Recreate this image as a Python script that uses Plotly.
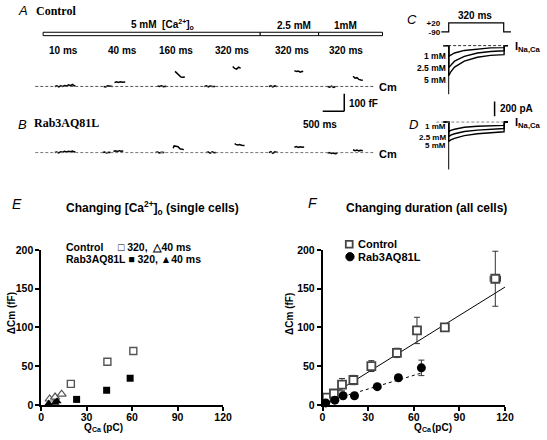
import plotly.graph_objects as go

W, H = 547, 440
def fx(p): return p / W
def fy(p): return 1 - p / H

# ---------------- data ----------------
# Panel E: changing [Ca2+]o, single cells  (Q_Ca pC, dCm fF)
e_ctrl320_q = [19.6, 43.7, 60.8]
e_ctrl320_dcm = [27.0, 55.5, 69.5]
e_ctrl40_q = [5.6, 9.2, 13.5]
e_ctrl40_dcm = [7.5, 10.0, 13.8]
e_rab320_q = [23.4, 43.2, 58.7]
e_rab320_dcm = [7.0, 18.8, 34.3]
e_rab40_q = [5.0, 9.2, 10.5]
e_rab40_dcm = [1.7, 2.8, 4.5]

# Panel F: changing duration, all cells
f_ctrl_q = [2.8, 7.5, 12.8, 20.3, 32.1, 48.9, 62.1, 80.4, 113.6]
f_ctrl_dcm = [9.2, 14.6, 26.0, 32.0, 50.0, 67.0, 96.0, 100.0, 162.7]
f_ctrl_err = [3, 3, 8, 6, 7, 6, 17, 5, 35.5]
f_ctrl_qerr = [0.5, 0.5, 0.8, 1.0, 1.0, 1.2, 1.5, 2.5, 3.4]
f_rab_q = [2.1, 8.1, 13.5, 21.0, 36.0, 49.9, 65.0]
f_rab_dcm = [2.5, 6.0, 11.7, 11.7, 23.4, 35.0, 47.7]
f_rab_err = [1.5, 2, 2.5, 2, 2.5, 3, 10]
f_ctrl_fit_q = [2, 120]
f_ctrl_fit_dcm = [8, 152]
f_rab_fit_q = [2, 65]
f_rab_fit_dcm = [4, 41]

# Panel A: Cm snippets, control (time ms, Cm fF); None separates snippets
a_t = [454, 500, 545, 590, 636, 681, 727, 772, 818, 863, 908, 931, None,
       1589, 1634, 1680, 1725, 1770, 1793, None,
       1839, 1884, 1930, 1975, 2020, 2066, 2088, None,
       2838, 2883, 2929, 2974, 3019, 3042, None,
       3246, 3292, 3337, 3383, 3428, 3473, None,
       3927, 3973, 4018, 4063, 4109, 4154, 4177, None,
       4585, 4630, 4676, 4721, 4767, None,
       5425, 5470, 5516, 5561, 5607, None,
       6016, 6062, 6107, 6152, 6198, 6220, None,
       6787, 6833, 6878, 6924, 6969, None,
       7378, 7424, 7469, 7514, 7560, 7605]
a_cm = [0, 3, -3, 4, 0, 5, 2, 9, 4, 11, 3, 6, None,
        0, -3, 4, 2, -2, 0, None,
        22, 27, 23, 27, 24, 27, 25, None,
        3, 0, 4, -1, 1, 0, None,
        86, 76, 62, 54, 52, 54, None,
        0, 4, -2, 3, 0, 2, -1, None,
        114, 103, 99, 110, 104, None,
        0, 4, -3, 3, 0, None,
        90, 85, 88, 82, 86, 84, None,
        0, -4, 2, -5, 0, None,
        58, 47, 50, 40, 37, 35]

# Panel B: Cm snippets, Rab3AQ81L
b_t = [454, 500, 545, 590, 636, 681, 727, 772, 818, 863, 908, 931, None,
       1566, 1611, 1657, 1702, 1748, None,
       1816, 1861, 1907, 1952, 1998, 2043, None,
       2792, 2838, 2883, 2929, 2996, None,
       3201, 3224, 3269, 3315, 3360, 3406, 3450, None,
       3973, 4018, 4063, 4109, 4154, 4200, None,
       4631, 4654, 4699, 4744, 4790, 4858, None,
       5425, 5470, 5516, 5561, 5630, None,
       6016, 6062, 6107, 6152, 6198, 6243, None,
       6787, 6833, 6878, 6924, 6969, 7014, None,
       7378, 7424, 7469, 7514, 7560, 7605]
b_cm = [0, 3, -2, 5, 2, 7, 4, 8, 5, 9, 4, 6, None,
        0, 3, -2, 2, 0, None,
        6, 10, 7, 11, 8, 9, None,
        0, 3, -2, 2, 0, None,
        25, 38, 36, 34, 22, 18, 17, None,
        0, 3, -3, 4, -1, 0, None,
        52, 47, 44, 46, 42, 41, None,
        0, 5, -4, 4, 0, None,
        31, 34, 29, 33, 30, 32, None,
        -3, 0, -5, -2, -6, -4, None,
        16, 11, 15, 10, 13, 11]

# Panel C: voltage step (ms, mV)
v_t = [-44, 0, 0, 320, 320, 362]
v_mv = [-90, -90, 20, 20, -90, -90]

# Panels C/D: Ca currents (ms, pA)
i_t = [-32, 0, 0, 12, 34, 91, 167, 243, 322, 324, 345]
c_1mM = [0, 0, -146, -128, -101, -66, -44, -31, -27, 0, 0]
c_2p5mM = [0, 0, -301, -265, -213, -146, -101, -80, -71, 0, 0]
c_5mM = [0, 0, -412, -360, -293, -213, -160, -133, -124, 0, 0]
c_transient_pa = [0, -665]
d_1mM = [0, 0, -133, -115, -98, -72, -58, -49, -45, 0, 0]
d_2p5mM = [0, 0, -200, -180, -160, -129, -111, -98, -89, 0, 0]
d_5mM = [0, 0, -266, -245, -222, -186, -160, -142, -133, 0, 0]
d_transient_pa = [0, -648]
transient_t = [0, 0]

conc_labels = ["1 mM", "2.5 mM", "5 mM"]
pulse_labels = ["10 ms", "40 ms", "160 ms", "320 ms", "320 ms", "320 ms"]
ticks_q = [0, 30, 60, 90, 120]
ticks_dcm = [0, 50, 100, 150, 200]

# ---------------- figure ----------------
SANS = "Liberation Sans, Arial, sans-serif"
SERIF = "Liberation Serif, Times New Roman, serif"
fig = go.Figure()

# E
fig.add_trace(go.Scatter(x=e_ctrl320_q, y=e_ctrl320_dcm, mode="markers", xaxis="x", yaxis="y",
                         marker=dict(symbol="square", size=7, color="white", line=dict(color="#555", width=1.4)),
                         cliponaxis=False))
fig.add_trace(go.Scatter(x=e_ctrl40_q, y=e_ctrl40_dcm, mode="markers", xaxis="x", yaxis="y",
                         marker=dict(symbol="triangle-up", size=8, color="white", line=dict(color="#555", width=1.2)),
                         cliponaxis=False))
fig.add_trace(go.Scatter(x=e_rab320_q, y=e_rab320_dcm, mode="markers", xaxis="x", yaxis="y",
                         marker=dict(symbol="square", size=7, color="black"), cliponaxis=False))
fig.add_trace(go.Scatter(x=e_rab40_q, y=e_rab40_dcm, mode="markers", xaxis="x", yaxis="y",
                         marker=dict(symbol="triangle-up", size=8, color="black"), cliponaxis=False))

# F
fig.add_trace(go.Scatter(x=f_ctrl_fit_q, y=f_ctrl_fit_dcm, mode="lines", xaxis="x2", yaxis="y2",
                         line=dict(color="black", width=1)))
fig.add_trace(go.Scatter(x=f_rab_fit_q, y=f_rab_fit_dcm, mode="lines", xaxis="x2", yaxis="y2",
                         line=dict(color="black", width=1, dash="3px,3px")))
fig.add_trace(go.Scatter(x=f_ctrl_q, y=f_ctrl_dcm, mode="markers", xaxis="x2", yaxis="y2",
                         error_y=dict(type="data", array=f_ctrl_err, color="#333", thickness=1, width=3),
                         error_x=dict(type="data", array=f_ctrl_qerr, color="#333", thickness=1, width=3),
                         marker=dict(symbol="square", size=8, color="white", line=dict(color="#444", width=1.8)),
                         cliponaxis=False))
fig.add_trace(go.Scatter(x=f_rab_q, y=f_rab_dcm, mode="markers", xaxis="x2", yaxis="y2",
                         error_y=dict(type="data", array=f_rab_err, color="#333", thickness=1, width=3),
                         marker=dict(symbol="circle", size=9, color="black"), cliponaxis=False))

# A / B Cm traces
fig.add_trace(go.Scatter(x=a_t, y=a_cm, mode="lines", xaxis="x3", yaxis="y3",
                         line=dict(color="black", width=1.5), connectgaps=False))
fig.add_trace(go.Scatter(x=b_t, y=b_cm, mode="lines", xaxis="x4", yaxis="y4",
                         line=dict(color="black", width=1.5), connectgaps=False))

# C voltage + currents
fig.add_trace(go.Scatter(x=v_t, y=v_mv, mode="lines", xaxis="x5", yaxis="y5",
                         line=dict(color="black", width=1.2)))
for arr in (c_1mM, c_2p5mM, c_5mM):
    fig.add_trace(go.Scatter(x=i_t, y=arr, mode="lines", xaxis="x6", yaxis="y6",
                             line=dict(color="black", width=1.4)))
fig.add_trace(go.Scatter(x=transient_t, y=c_transient_pa, mode="lines", xaxis="x6", yaxis="y6",
                         line=dict(color="black", width=1)))
for arr in (d_1mM, d_2p5mM, d_5mM):
    fig.add_trace(go.Scatter(x=i_t, y=arr, mode="lines", xaxis="x7", yaxis="y7",
                             line=dict(color="black", width=1.4)))
fig.add_trace(go.Scatter(x=transient_t, y=d_transient_pa, mode="lines", xaxis="x7", yaxis="y7",
                         line=dict(color="black", width=1)))

# ---------------- axes ----------------
tickfont = dict(family=SANS, size=10.5, color="black", weight="bold")
def data_x(dom):
    return dict(domain=dom, range=[0, 120], tickvals=ticks_q, showline=True, linecolor="black",
                linewidth=1.5, ticks="outside", ticklen=4, tickwidth=1.5, tickcolor="black",
                showgrid=False, zeroline=False, tickfont=tickfont, fixedrange=True,
                ticklabelstandoff=-2)
def data_y(anchor):
    return dict(domain=[fy(410), fy(250.7)], range=[0, 200], tickvals=ticks_dcm, showline=True,
                linecolor="black", linewidth=1.5, ticks="outside", ticklen=4, tickwidth=1.5,
                tickcolor="black", showgrid=False, zeroline=False, tickfont=tickfont,
                anchor=anchor, fixedrange=True)

hidden = dict(visible=False, showgrid=False, zeroline=False, fixedrange=True)
cm_xdom = [fx(33), fx(380)]
cd_xdom = [fx(448), fx(520)]
cd_xrange = [-43.8, 365.9]

layout_axes = dict(
    xaxis=dict(data_x([fx(39), fx(225)]), anchor="y"),
    yaxis=data_y("x"),
    xaxis2=dict(data_x([fx(326.7), fx(513.3)]), anchor="y2"),
    yaxis2=data_y("x2"),
    xaxis3=dict(hidden, domain=cm_xdom, range=[0, 7880], anchor="y3"),
    yaxis3=dict(hidden, domain=[fy(111.5), fy(59.3)], range=[-160, 130], anchor="x3"),
    xaxis4=dict(hidden, domain=cm_xdom, range=[0, 7880], anchor="y4"),
    yaxis4=dict(hidden, domain=[fy(156.1), fy(127.3)], range=[-30, 130], anchor="x4"),
    xaxis5=dict(hidden, domain=cd_xdom, range=cd_xrange, anchor="y5"),
    yaxis5=dict(domain=[fy(28.4), fy(15.6)], range=[-110, 40], anchor="x5", tickvals=[-90, 20],
                ticktext=["-90", "+20"], showline=False, ticks="", showgrid=False, zeroline=False,
                tickfont=dict(family=SANS, size=8, color="black", weight="bold"), fixedrange=True),
    xaxis6=dict(hidden, domain=cd_xdom, range=cd_xrange, anchor="y6"),
    yaxis6=dict(hidden, domain=[fy(92), fy(35)], range=[-682, 76], anchor="x6"),
    xaxis7=dict(hidden, domain=cd_xdom, range=cd_xrange, anchor="y7"),
    yaxis7=dict(hidden, domain=[fy(170), fy(95)], range=[-674, 323], anchor="x7"),
)

# ---------------- shapes ----------------
shapes = []
dash_line = dict(color="#555", width=1, dash="3px,2px")
shapes.append(dict(type="line", xref="x3 domain", x0=0, x1=1, yref="y3", y0=0, y1=0, line=dash_line))
shapes.append(dict(type="line", xref="x4 domain", x0=0, x1=1, yref="y4", y0=0, y1=0,
                   line=dict(color="#777", width=1, dash="3px,2px")))
shapes.append(dict(type="line", xref="x6 domain", x0=(450 - 448) / 72, x1=(513 - 448) / 72, yref="y6",
                   y0=0, y1=0, line=dict(color="#333", width=1, dash="3px,2px")))
shapes.append(dict(type="line", xref="x7 domain", x0=(443 - 448) / 72, x1=(512 - 448) / 72, yref="y7",
                   y0=0, y1=0, line=dict(color="#888", width=1, dash="3px,2px")))
# scale bars (500 ms / 100 fF in panel A axes; 200 pA in panel D axes)
SCALE_MS, SCALE_FF, SCALE_PA = 500, 100, 200
bar_t, bar_ff = 7174, -142
shapes.append(dict(type="line", xref="x3", yref="y3", x0=bar_t - SCALE_MS, x1=bar_t, y0=bar_ff, y1=bar_ff,
                   line=dict(color="black", width=1.5)))
shapes.append(dict(type="line", xref="x3", yref="y3", x0=bar_t, x1=bar_t, y0=bar_ff, y1=bar_ff + SCALE_FF,
                   line=dict(color="black", width=1.5)))
shapes.append(dict(type="line", xref="x7", yref="y7", x0=267, x1=267, y0=80, y1=80 + SCALE_PA,
                   line=dict(color="black", width=1.5)))
# [Ca2+]o solution bar
for a, b in ((41, 263), (263, 322.7), (322.7, 388)):
    shapes.append(dict(type="rect", xref="paper", yref="paper", x0=fx(a), x1=fx(b), y0=fy(30.5), y1=fy(27),
                       line=dict(color="black", width=1), fillcolor="white"))
# F legend symbols
shapes.append(dict(type="rect", xref="paper", yref="paper", x0=fx(350.5), x1=fx(357.5), y0=fy(248.5),
                   y1=fy(241.5), line=dict(color="#444", width=1.8), fillcolor="white"))
shapes.append(dict(type="circle", xref="paper", yref="paper", x0=fx(350.5), x1=fx(359), y0=fy(262),
                   y1=fy(253.5), line=dict(color="black", width=1), fillcolor="black"))

# ---------------- annotations ----------------
ann = []
def txt(text, x, y, size=10, xanchor="center", family=SANS, weight="bold", style="normal", angle=0,
        yanchor="middle"):
    ann.append(dict(text=text, x=fx(x), y=fy(y), xref="paper", yref="paper", showarrow=False,
                    xanchor=xanchor, yanchor=yanchor, textangle=angle, borderpad=0,
                    font=dict(family=family, size=size, color="black", weight=weight, style=style)))

txt("A", 20.5, 5, size=13, weight="normal", style="italic")
txt("Control", 33, 5, size=12, xanchor="left", family=SERIF)
txt("5 mM  [Ca<sup>2+</sup>]<sub>o</sub>", 163, 19)
txt("2.5 mM", 298, 20)
txt("1mM", 350, 20)
for lab, xc in zip(pulse_labels, (62, 122, 177, 234, 295, 351)):
    txt(lab, xc, 46)
txt("Cm", 383, 83, size=11, xanchor="left")
txt("100 fF", 353, 100, xanchor="left")
txt("500 ms", 324, 121.7)
txt("B", 19.5, 122, size=13, weight="normal", style="italic")
txt("Rab3AQ81L", 31, 120, size=12, xanchor="left", family=SERIF)
txt("Cm", 383, 152, size=11, xanchor="left")

txt("C", 418, 14, size=13, weight="normal", style="italic")
txt("D", 420, 122, size=13, weight="normal", style="italic")
txt("320 ms", 483, 10)
txt("I<sub>Na,Ca</sub>", 522, 41.7, size=11, xanchor="left")
txt("I<sub>Na,Ca</sub>", 522, 120.7, size=11, xanchor="left")
txt("200 pA", 507, 105, xanchor="left")
for lab, y0, sh in zip(conc_labels, (c_1mM[2], c_2p5mM[2], c_5mM[2]), (0, 0, -4)):
    ann.append(dict(text=lab, x=0, y=y0, xref="x6", yref="y6", showarrow=False, xanchor="right",
                    yanchor="middle", xshift=-1, yshift=sh,
                    font=dict(family=SANS, size=8.5, color="black", weight="bold")))
for lab, y0, sh in zip(conc_labels, (d_1mM[2], d_2p5mM[2], d_5mM[2]), (5, -1, -4)):
    ann.append(dict(text=lab, x=0, y=y0, xref="x7", yref="y7", showarrow=False, xanchor="right",
                    yanchor="middle", xshift=-1, yshift=sh,
                    font=dict(family=SANS, size=8, color="black", weight="bold")))

def qca_title(xc):
    # "Q" + small subscript "Ca" + " (pC)" as three plain-text pieces
    left = xc - 20
    txt("Q", left, 440, size=10, xanchor="left", yanchor="bottom")
    txt("Ca", left + 8, 440, size=7, xanchor="left", yanchor="bottom")
    txt("(pC)", left + 19, 440, size=10, xanchor="left", yanchor="bottom")

txt("E", 14.5, 203.5, size=14, weight="normal", style="italic")
txt("Changing [Ca<sup>2+</sup>]<sub>o</sub> (single cells)", 153, 208, size=12)
txt("Control&nbsp;&nbsp;&nbsp;&nbsp;&nbsp;\u25a1 320,&nbsp;&nbsp;\u25b340 ms", 63, 248, size=10.5, xanchor="left")
txt("Rab3AQ81L \u25a0 320, \u25b240 ms", 63, 260, size=10.5, xanchor="left")
txt("\u0394Cm (fF)", 9, 316, size=10, angle=-90)
qca_title(102)

txt("F", 317, 203, size=14, weight="normal", style="italic")
txt("Changing duration (all cells)", 433, 208, size=12)
txt("Control", 362, 245, size=11, xanchor="left")
txt("Rab3AQ81L", 362, 257.7, size=11, xanchor="left")
txt("\u0394Cm (fF)", 293, 317, size=10, angle=-90)
qca_title(439)

fig.update_layout(width=W, height=H, autosize=False, margin=dict(l=0, r=0, t=0, b=0),
                  paper_bgcolor="white", plot_bgcolor="white", showlegend=False,
                  shapes=shapes, annotations=ann, **layout_axes)

fig.write_html("out.html", include_plotlyjs=True, full_html=True,
               config={"displayModeBar": False, "responsive": False},
               post_script="document.body.style.margin='0';document.body.style.overflow='hidden';")
